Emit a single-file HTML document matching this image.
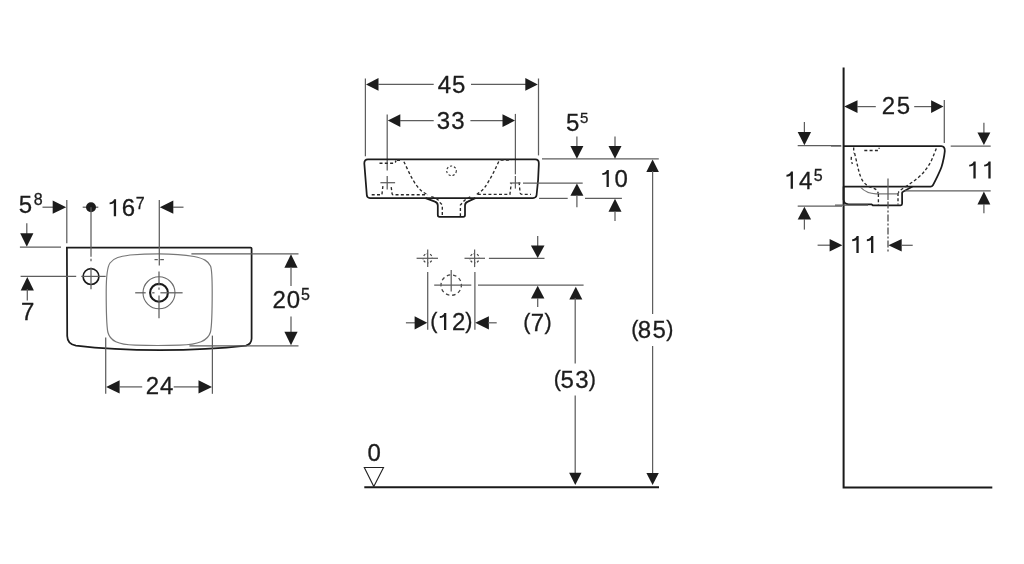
<!DOCTYPE html>
<html><head><meta charset="utf-8">
<style>
html,body{margin:0;padding:0;background:#fff;width:1024px;height:564px;overflow:hidden}
svg{display:block;filter:blur(0.4px)}
text{font-family:"Liberation Sans",sans-serif;fill:#1c1c1c;stroke:#1c1c1c;stroke-width:0.3px}
.o{fill:none;stroke:#1c1c1c;stroke-width:1.75}
.d{fill:none;stroke:#5e5e5e;stroke-width:1.25}
.g{fill:none;stroke:#777;stroke-width:1.2}
.dash{fill:none;stroke:#2a2a2a;stroke-width:1.35;stroke-dasharray:3 2.3}
.a{fill:#1c1c1c;stroke:none}
.one{fill:none;stroke:#1c1c1c;stroke-linecap:butt}
</style></head><body>
<svg width="1024" height="564" viewBox="0 0 1024 564">
<!-- left view -->
<path class="o" d="M66.9,247.5 H250.6 Q251.6,247.5 251.6,248.5 V338.5 Q251.5,344 246,345.6 C225,348 200,350 160,350.2 C125,350 100,348.5 76,345.6 Q67.4,344.3 67.2,336 Z"/>
<path class="g" d="M106.2,292 C106.2,278 106.5,268 110,263 C114,257.5 120,256.5 130,255 C142,254 152,253.8 159,253.8 C170,253.8 183,254.5 194,256.5 C204,258.5 208,261 210.5,266 C212.2,270 212.2,280 212.2,292 C212.2,312 212.2,324 210.5,332 C208,341 198,344.5 180,345.2 C165,345.6 150,345.6 135,345.2 C118,344.5 110,341 107.8,332 C106.3,324 106.2,310 106.2,292 Z"/>
<text class="t txt" style="font-size:24.0px" x="18.75" y="212.69">5</text>
<text class="s txt" style="font-size:16px" x="33.65" y="204.56">8</text>
<line class="d" x1="42.5" y1="207.2" x2="53" y2="207.2"/>
<polygon class="a" points="66.20,207.20 52.70,200.60 52.70,213.80"/>
<line class="d" x1="66.8" y1="200" x2="66.8" y2="243.2"/>
<line class="d" x1="82.7" y1="207.2" x2="98.3" y2="207.2"/>
<circle class="a" cx="91" cy="207.2" r="5"/>
<line class="d" x1="91" y1="207.2" x2="91" y2="256.7"/>
<line class="d" x1="91" y1="258.8" x2="91" y2="261.2"/>
<path class="a txt" d="M116.09,216.29 V199.25 H114.09 C113.19,201.45 111.81,202.25 109.61,202.45 V204.35 C112.21,204.25 112.79,203.85 113.79,202.85 V216.29 Z"/>
<text class="t txt" style="font-size:24.0px" x="121.69" y="216.29">6</text>
<text class="s txt" style="font-size:16px" x="135.69" y="208.75">7</text>
<line class="d" x1="159.3" y1="200" x2="159.3" y2="265.5"/>
<polygon class="a" points="159.80,207.20 173.30,200.60 173.30,213.80"/>
<line class="d" x1="173" y1="207.2" x2="183.5" y2="207.2"/>
<line class="d" x1="26.8" y1="223.3" x2="26.8" y2="235"/>
<polygon class="a" points="26.80,246.80 20.20,233.30 33.40,233.30"/>
<line class="d" x1="19.9" y1="247.2" x2="61" y2="247.2"/>
<line class="d" x1="20.6" y1="276.4" x2="76.2" y2="276.4"/>
<polygon class="a" points="27.30,276.90 20.70,290.40 33.90,290.40"/>
<line class="d" x1="27.3" y1="289" x2="27.3" y2="300.4"/>
<text class="t txt" style="font-size:24.0px" x="21.01" y="320.06">7</text>
<circle cx="91" cy="276.6" r="7.9" fill="none" stroke="#1a1a1a" stroke-width="1.7"/>
<line class="d" x1="91" y1="267.7" x2="91" y2="289.2"/>
<line class="d" x1="81.3" y1="276.4" x2="105.7" y2="276.4"/>
<circle cx="159" cy="292.8" r="16" fill="none" stroke="#6a6a6a" stroke-width="1.1"/>
<circle cx="159" cy="292.8" r="8.9" fill="none" stroke="#1a1a1a" stroke-width="2.1"/>
<line class="d" x1="135.2" y1="292.8" x2="145.7" y2="292.8"/>
<line class="d" x1="152.2" y1="292.8" x2="154.5" y2="292.8"/>
<line class="d" x1="160.4" y1="292.8" x2="182.6" y2="292.8"/>
<line class="d" x1="159" y1="271.4" x2="159" y2="285.5"/>
<line class="d" x1="159" y1="287.6" x2="159" y2="289.8"/>
<line class="d" x1="159" y1="295.5" x2="159" y2="318.3"/>
<line class="d" x1="154.5" y1="259.6" x2="157.8" y2="259.6"/>
<line class="d" x1="160.2" y1="259.6" x2="163.9" y2="259.6"/>
<line class="d" x1="191.4" y1="253.9" x2="298.5" y2="253.9"/>
<line class="d" x1="189.4" y1="345.8" x2="298.5" y2="345.8"/>
<polygon class="a" points="291.00,254.20 284.40,267.70 297.60,267.70"/>
<line class="d" x1="291" y1="267" x2="291" y2="286"/>
<line class="d" x1="291" y1="316.5" x2="291" y2="332"/>
<polygon class="a" points="291.00,345.30 284.40,331.80 297.60,331.80"/>
<text class="t txt" style="font-size:24.0px" x="272.48 286.78" y="308.07">20</text>
<text class="s txt" style="font-size:16px" x="301.02" y="299.93">5</text>
<line class="d" x1="105.7" y1="337.6" x2="105.7" y2="393.8"/>
<line class="d" x1="212.4" y1="335.6" x2="212.4" y2="393.8"/>
<polygon class="a" points="106.10,386.90 119.60,380.30 119.60,393.50"/>
<line class="d" x1="119" y1="386.9" x2="142.2" y2="386.9"/>
<text class="t txt" style="font-size:24.0px" x="145.78 160.05" y="394.32">24</text>
<line class="d" x1="173.7" y1="386.9" x2="199.5" y2="386.9"/>
<polygon class="a" points="212.00,386.90 198.50,380.30 198.50,393.50"/>
<!-- middle view -->
<line class="d" x1="365.4" y1="78.5" x2="365.4" y2="156.3"/>
<line class="d" x1="538.5" y1="78.5" x2="538.5" y2="155.4"/>
<polygon class="a" points="366.00,84.40 378.50,78.00 378.50,90.80"/>
<line class="d" x1="378" y1="84.4" x2="433.7" y2="84.4"/>
<text class="t txt" style="font-size:24.0px" x="437.75 452.05" y="92.55">45</text>
<line class="d" x1="471" y1="84.4" x2="526" y2="84.4"/>
<polygon class="a" points="537.80,84.40 525.30,78.00 525.30,90.80"/>
<line class="d" x1="387.2" y1="114.6" x2="387.2" y2="170.5"/>
<line class="d" x1="515.4" y1="113.9" x2="515.4" y2="174.3"/>
<polygon class="a" points="387.80,120.60 400.30,114.20 400.30,127.00"/>
<line class="d" x1="400" y1="120.6" x2="433.7" y2="120.6"/>
<text class="t txt" style="font-size:24.0px" x="436.85 451.35" y="128.51">33</text>
<line class="d" x1="470.4" y1="120.6" x2="503" y2="120.6"/>
<polygon class="a" points="515.00,120.60 502.50,114.20 502.50,127.00"/>
<path class="o" d="M368,159.3 H535.3 Q538.8,159.3 538.8,163 L538.8,165 Q538.5,180 536.6,195 Q536.2,198 533,198 H370 Q367,198 366.8,195 L364.3,163.2 Q364.3,159.3 368,159.3 Z"/>
<path class="o" d="M425.6,198.1 L434.9,201.6 Q437.8,202.6 437.8,205.5 V215 Q437.8,216.8 439.6,216.8 H463.2 Q465,216.8 465,215 V205.5 Q465,202.6 467.8,201.6 L475.3,198.1"/>
<path class="dash" d="M379.5,163.2 H394.1 Q395.5,163 396,160.5 M397,160.2 H402 M403.9,161.7 C408,170 412,180 417.5,186.6 C420,190 423,192.5 427,194.3 M371.7,194.7 H381.9 L382.9,186.1 M391.2,187.1 L392.1,193.9 L393,194.7 H427.5 M431.3,196.7 C436,198 438.5,199.5 439,201.5 L442.3,205 V216.2 M460.4,216.2 V205 L463.5,201.5 C465,199.5 468,198 471.7,196.3 M476.7,194.3 C480,192 483,190 485,187 C490,180 495,170 499.1,160.7 M500.6,160 H511.3 M477.8,194.4 H509.9 L511.3,183.2 M519.1,182.2 L520.1,192.9 Q520.5,194.4 522,194.4 H530.9"/>
<circle cx="451.5" cy="170.8" r="4.8" fill="none" stroke="#333" stroke-width="1.1" stroke-dasharray="2.2 1.9"/>
<line class="d" x1="380.4" y1="182.7" x2="395.1" y2="182.7"/>
<line class="d" x1="387.2" y1="175.9" x2="387.2" y2="189.5"/>
<line class="d" x1="509.9" y1="183" x2="520.6" y2="183"/>
<line class="d" x1="515.4" y1="176" x2="515.4" y2="188.6"/>
<line class="d" x1="542" y1="158.9" x2="658.8" y2="158.9"/>
<line class="d" x1="523" y1="183" x2="582.7" y2="183"/>
<line class="d" x1="539.1" y1="198.4" x2="567.7" y2="198.4"/>
<line class="d" x1="585" y1="198.4" x2="621.9" y2="198.4"/>
<text class="t txt" style="font-size:24.0px" x="565.90" y="130.69">5</text>
<text class="s txt" style="font-size:15px" x="579.94" y="122.64">5</text>
<line class="d" x1="576.9" y1="136.4" x2="576.9" y2="147"/>
<polygon class="a" points="576.90,158.80 570.40,146.10 583.40,146.10"/>
<line class="d" x1="615" y1="136.4" x2="615" y2="147"/>
<polygon class="a" points="615.00,158.80 608.50,146.10 621.50,146.10"/>
<polygon class="a" points="576.90,183.40 570.40,195.70 583.40,195.70"/>
<line class="d" x1="576.9" y1="195" x2="576.9" y2="207.2"/>
<polygon class="a" points="615.00,198.80 608.50,211.80 621.50,211.80"/>
<line class="d" x1="615" y1="211" x2="615" y2="221"/>
<path class="a txt" d="M608.84,186.92 V169.88 H606.84 C605.94,172.08 604.56,172.88 602.36,173.08 V174.98 C604.96,174.88 605.54,174.48 606.54,173.48 V186.92 Z"/>
<text class="t txt" style="font-size:24.0px" x="614.43" y="186.92">0</text>
<polygon class="a" points="652.60,159.40 646.30,172.00 658.90,172.00"/>
<line class="d" x1="652.6" y1="171" x2="652.6" y2="314"/>
<text class="t txt" style="font-size:21.5px" x="631.17" y="336.31">(</text>
<text class="t txt" style="font-size:21.5px" x="666.22" y="336.31">)</text>
<text class="t txt" style="font-size:24.0px" x="637.78 652.60" y="337.75">85</text>
<line class="d" x1="652.6" y1="346" x2="652.6" y2="474"/>
<polygon class="a" points="652.60,485.10 646.40,473.10 658.80,473.10"/>
<line class="d" x1="416.6" y1="258.3" x2="438" y2="258.3"/>
<line class="d" x1="427.7" y1="249.5" x2="427.7" y2="267.1"/>
<circle cx="427.7" cy="258.3" r="4.6" pathLength="80" fill="none" stroke="#444" stroke-width="1.2" stroke-dasharray="6 4 1.2 8.8" stroke-dashoffset="-7"/>
<line class="d" x1="464.5" y1="258.3" x2="485" y2="258.3"/>
<line class="d" x1="474.6" y1="249.5" x2="474.6" y2="267.1"/>
<circle cx="474.6" cy="258.3" r="4.6" pathLength="80" fill="none" stroke="#444" stroke-width="1.2" stroke-dasharray="6 4 1.2 8.8" stroke-dashoffset="-7"/>
<line class="d" x1="488.9" y1="258.3" x2="544.5" y2="258.3"/>
<line class="d" x1="537.7" y1="235.9" x2="537.7" y2="246"/>
<polygon class="a" points="537.70,258.00 530.90,245.60 544.50,245.60"/>
<line class="d" x1="427.7" y1="272" x2="427.7" y2="329.8"/>
<line class="d" x1="474.9" y1="272" x2="474.9" y2="329.8"/>
<circle cx="451.2" cy="285.1" r="10.2" pathLength="100" fill="none" stroke="#444" stroke-width="1.3" stroke-dasharray="5.5 4.5" stroke-dashoffset="2"/>
<line class="d" x1="434.2" y1="285.1" x2="471.3" y2="285.1"/>
<line class="d" x1="451.2" y1="270" x2="451.2" y2="291.5"/>
<line class="d" x1="478" y1="285.1" x2="583.6" y2="285.1"/>
<polygon class="a" points="537.70,285.70 531.00,298.40 544.40,298.40"/>
<line class="d" x1="537.7" y1="298" x2="537.7" y2="307.1"/>
<line class="d" x1="405.9" y1="322.8" x2="415" y2="322.8"/>
<polygon class="a" points="427.30,322.80 414.60,316.20 414.60,329.40"/>
<text class="t txt" style="font-size:21.5px" x="430.17" y="328.06">(</text>
<path class="a txt" d="M446.29,329.95 V312.91 H444.29 C443.39,315.11 442.01,315.91 439.81,316.11 V318.01 C442.41,317.91 442.99,317.51 443.99,316.51 V329.95 Z"/>
<text class="t txt" style="font-size:21.5px" x="465.37" y="328.06">)</text>
<text class="t txt" style="font-size:24.0px" x="451.98" y="329.95">2</text>
<polygon class="a" points="475.20,322.80 488.90,316.20 488.90,329.40"/>
<line class="d" x1="488" y1="322.8" x2="496.7" y2="322.8"/>
<text class="t txt" style="font-size:21.5px" x="523.37" y="328.81">(</text>
<text class="t txt" style="font-size:21.5px" x="544.47" y="328.81">)</text>
<text class="t txt" style="font-size:24.0px" x="530.71" y="330.56">7</text>
<polygon class="a" points="575.80,286.80 569.30,299.60 582.30,299.60"/>
<line class="d" x1="575.2" y1="298" x2="575.2" y2="363.5"/>
<text class="t txt" style="font-size:21.5px" x="553.82" y="386.11">(</text>
<text class="t txt" style="font-size:21.5px" x="588.77" y="386.11">)</text>
<text class="t txt" style="font-size:24.0px" x="560.60 575.15" y="387.95">53</text>
<line class="d" x1="575.2" y1="395.4" x2="575.2" y2="473"/>
<polygon class="a" points="575.30,485.10 569.10,472.80 581.50,472.80"/>
<line x1="364.3" y1="487.3" x2="659" y2="487.3" stroke="#1a1a1a" stroke-width="2"/>
<polygon points="364.3,467.5 383.5,467.5 373.8,486.5" fill="none" stroke="#222" stroke-width="1.1"/>
<text class="t txt" style="font-size:24.0px" x="367.43" y="460.81">0</text>
<!-- right view -->
<polyline points="843.6,67.4 843.6,487.4 992.3,487.4" fill="none" stroke="#1a1a1a" stroke-width="2"/>
<polygon class="a" points="844.20,106.60 857.50,100.20 857.50,113.00"/>
<line class="d" x1="857" y1="106.6" x2="875.8" y2="106.6"/>
<text class="t txt" style="font-size:24.0px" x="881.83 896.75" y="113.66">25</text>
<line class="d" x1="914.2" y1="106.6" x2="932" y2="106.6"/>
<polygon class="a" points="943.50,106.60 931.10,100.20 931.10,113.00"/>
<line class="d" x1="944.3" y1="99.9" x2="944.3" y2="143"/>
<path class="o" d="M843.6,146.2 H941.3 Q944.9,146.4 944.8,151 C944.63,152.13 944.35,155.13 943.80,157.80 C943.25,160.47 942.57,163.92 941.50,167.00 C940.43,170.08 938.83,173.25 937.40,176.30 C935.97,179.35 933.65,183.80 932.90,185.30 Q932,186.6 930.6,186.6 H843.6"/>
<path class="o" d="M843.6,186.5 V199.6 Q844,204.2 848.5,204.3 H871.5 L872.8,205.3 H900.6 Q902.1,205.3 902.1,203.8 V192.8 Q902.1,192.2 903,191.8 L912.5,186.6"/>
<path class="g" d="M860.4,187.2 C864,191 869,193.7 876,193.9 H897.4"/>
<path class="dash" d="M853.7,147.5 V153.2 M854.60,153.20 C854.83,154.20 855.53,157.20 856.00,159.20 C856.47,161.20 856.95,163.28 857.40,165.20 C857.85,167.12 858.25,169.02 858.70,170.70 C859.15,172.38 859.48,173.68 860.10,175.30 C860.72,176.92 861.40,178.85 862.40,180.40 C863.40,181.95 864.75,183.47 866.10,184.60 C867.45,185.73 868.88,186.40 870.50,187.20 C872.12,188.00 874.48,188.38 875.80,189.40 C877.12,190.42 877.97,192.65 878.40,193.30  M851.4,156.9 C851,159 851.4,161.5 852.4,164 M878.4,194 V205.5 M864.3,150.5 H878.1 Q879.1,150.2 879.1,147.7 M936.30,148.50 C935.87,149.60 934.67,152.78 933.70,155.10 C932.73,157.42 931.73,160.10 930.50,162.40 C929.27,164.70 927.77,166.90 926.30,168.90 C924.83,170.90 923.53,172.55 921.70,174.40 C919.87,176.25 917.45,178.30 915.30,180.00 C913.15,181.70 911.27,182.92 908.80,184.60 C906.33,186.28 902.27,188.73 900.50,190.10 C898.73,191.47 898.58,192.35 898.20,192.80  M898,193 V204.5"/>
<line class="d" x1="888" y1="178.5" x2="888" y2="200"/>
<path class="dash" d="M888,201.5 V252.3" style="stroke:#555;stroke-dasharray:7 2 2 2"/>
<line class="d" x1="835" y1="205.2" x2="868" y2="205.2"/>
<line class="d" x1="804.4" y1="122" x2="804.4" y2="133"/>
<polygon class="a" points="804.40,145.20 797.70,132.00 811.10,132.00"/>
<line class="d" x1="797.7" y1="145.6" x2="841" y2="145.6"/>
<path class="a txt" d="M792.94,188.64 V171.60 H790.94 C790.04,173.80 788.66,174.60 786.46,174.80 V176.70 C789.06,176.60 789.64,176.20 790.64,175.20 V188.64 Z"/>
<text class="t txt" style="font-size:24.0px" x="798.95" y="188.64">4</text>
<text class="s txt" style="font-size:16px" x="813.72" y="181.38">5</text>
<line class="d" x1="797.7" y1="206.2" x2="842" y2="206.2"/>
<polygon class="a" points="804.40,206.70 797.70,219.40 811.10,219.40"/>
<line class="d" x1="804.4" y1="219" x2="804.4" y2="229.6"/>
<line class="d" x1="817.6" y1="245.2" x2="830" y2="245.2"/>
<polygon class="a" points="842.40,245.20 829.60,239.00 829.60,251.40"/>
<path class="a txt" d="M858.69,253.07 V236.03 H856.69 C855.79,238.23 854.41,239.03 852.21,239.23 V241.13 C854.81,241.03 855.39,240.63 856.39,239.63 V253.07 Z"/>
<path class="a txt" d="M873.34,253.07 V236.03 H871.34 C870.44,238.23 869.06,239.03 866.86,239.23 V241.13 C869.46,241.03 870.04,240.63 871.04,239.63 V253.07 Z"/>
<polygon class="a" points="888.40,245.30 901.70,239.10 901.70,251.50"/>
<line class="d" x1="901" y1="245.3" x2="912.7" y2="245.3"/>
<line class="d" x1="950.7" y1="146" x2="990.7" y2="146"/>
<line class="d" x1="831" y1="146" x2="841.4" y2="146"/>
<line class="d" x1="983.9" y1="122.7" x2="983.9" y2="133"/>
<polygon class="a" points="983.90,145.10 977.45,132.40 990.35,132.40"/>
<path class="a txt" d="M975.69,178.52 V161.48 H973.69 C972.79,163.68 971.41,164.48 969.21,164.68 V166.58 C971.81,166.48 972.39,166.08 973.39,165.08 V178.52 Z"/>
<path class="a txt" d="M990.64,178.52 V161.48 H988.64 C987.74,163.68 986.36,164.48 984.16,164.68 V166.58 C986.76,166.48 987.34,166.08 988.34,165.08 V178.52 Z"/>
<line class="d" x1="904.8" y1="190.8" x2="990.7" y2="190.8"/>
<polygon class="a" points="983.90,191.50 977.45,204.50 990.35,204.50"/>
<line class="d" x1="983.9" y1="204" x2="983.9" y2="213.3"/>
</svg>
</body></html>
